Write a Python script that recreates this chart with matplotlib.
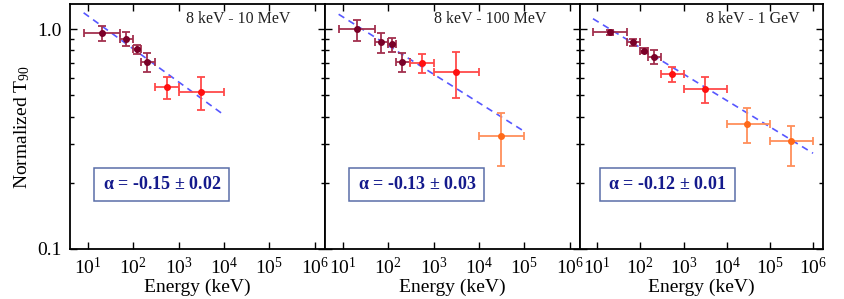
import numpy as np
import matplotlib
matplotlib.use("Agg")
import matplotlib.pyplot as plt
from matplotlib.ticker import FixedLocator, NullFormatter, FixedFormatter, LogLocator

plt.rcParams['font.family'] = ['Liberation Serif', 'DejaVu Serif']
plt.rcParams['mathtext.fontset'] = 'stix'
plt.rcParams['mathtext.default'] = 'regular'

# ---- data ----
bin_lo = [8, 50, 100, 150, 300, 1000, 1e4, 1e5]
bin_hi = [50, 100, 150, 300, 1000, 1e4, 1e5, 1e6]
energy = [20, 69, 120, 205, 540, 3100, 30200, 309000]
group = [0, 0, 0, 0, 1, 1, 2, 2]

titles = ["8 keV - 10 MeV", "8 keV - 100 MeV", "8 keV - 1 GeV"]
n_points = [6, 7, 8]

t90_p1 = [0.956, 0.900, 0.809, 0.710, 0.543, 0.516]
t90_p1_hi = [1.032, 0.972, 0.846, 0.775, 0.607, 0.603]
t90_p1_lo = [0.885, 0.837, 0.770, 0.635, 0.479, 0.428]

t90_p2 = [1.000, 0.870, 0.852, 0.706, 0.703, 0.640, 0.327]
t90_p2_hi = [1.099, 0.962, 0.913, 0.775, 0.770, 0.789, 0.414]
t90_p2_lo = [0.885, 0.775, 0.789, 0.635, 0.629, 0.487, 0.239]

t90_p3 = [0.966, 0.870, 0.797, 0.748, 0.624, 0.532, 0.370, 0.310]
t90_p3_hi = [0.990, 0.900, 0.822, 0.803, 0.674, 0.603, 0.436, 0.362]
t90_p3_lo = [0.939, 0.840, 0.775, 0.691, 0.573, 0.459, 0.304, 0.239]

alpha_val = [-0.15, -0.13, -0.12]
alpha_err = [0.02, 0.03, 0.01]
fit_norm = [1.62, 1.53, 1.43]
fit_emin = [8, 8, 8]
fit_emax = [1e4, 1e5, 1e6]

yticks = [0.1, 1.0]
ytick_labels = ["0.1", "1.0"]
xticks = [1e1, 1e2, 1e3, 1e4, 1e5, 1e6]

# ---- style ----
pt_colors = ['#7a0028', '#ff1010', '#ff6a1a']
bar_colors = ['#a2304e', '#ff4a4a', '#ff8f5a']
title_x = [0.865, 0.867, 0.905]

fig = plt.figure(figsize=(8.44, 2.99), dpi=100)
W, H = 844, 299
panels = [(70, 325), (325, 580), (580, 823)]
top, bottom = 4, 249

series = [(t90_p1, t90_p1_lo, t90_p1_hi), (t90_p2, t90_p2_lo, t90_p2_hi),
          (t90_p3, t90_p3_lo, t90_p3_hi)]

for i, (x0, x1) in enumerate(panels):
    ax = fig.add_axes([x0 / W, 1 - bottom / H, (x1 - x0) / W, (bottom - top) / H])
    ax.set_xscale('log')
    ax.set_yscale('log')
    ax.set_xlim(4.0, 1.7e6)
    ax.set_ylim(0.1, 1.3)
    n = n_points[i]
    t, tlo, thi = series[i]
    for k in range(n):
        g = group[k]
        e = energy[k]
        ax.errorbar([e], [t[k]],
                    xerr=[[e - bin_lo[k]], [bin_hi[k] - e]],
                    yerr=[[t[k] - tlo[k]], [thi[k] - t[k]]],
                    fmt='none', ecolor=bar_colors[g], elinewidth=1.3,
                    capsize=3, capthick=1.3, zorder=3)
        ax.plot([e], [t[k]], 'o', color=pt_colors[g], ms=4, zorder=4)
    ef = np.array([fit_emin[i], fit_emax[i]])
    ax.plot(ef, fit_norm[i] * ef ** alpha_val[i], color='#3a3aff', lw=1.2,
            ls=(0, (4, 3)), alpha=0.85, zorder=2)

    ax.text(title_x[i], 0.94, titles[i], transform=ax.transAxes, ha='right',
            va='center', fontsize=11.5, color='#222222')
    ax.text(0.36, 0.262, r'$\alpha$ = %.2f $\pm$ %.2f' % (alpha_val[i], alpha_err[i]),
            transform=ax.transAxes, ha='center', va='center', fontsize=13,
            fontweight='bold', color='#141a8c',
            bbox=dict(boxstyle='square,pad=0.45', fc='white', ec='#5a6ea8', lw=1.1))

    ax.xaxis.set_major_locator(FixedLocator(xticks))
    ax.xaxis.set_minor_locator(FixedLocator([]))
    ax.yaxis.set_major_locator(FixedLocator(yticks))
    ax.yaxis.set_minor_locator(LogLocator(base=10, subs=np.arange(2, 10)))
    ax.yaxis.set_minor_formatter(NullFormatter())
    if i == 0:
        ax.yaxis.set_major_formatter(FixedFormatter(ytick_labels))
        ax.set_ylabel(r'Normalized T$_{90}$', fontsize=14, labelpad=4)
    else:
        ax.yaxis.set_major_formatter(NullFormatter())
    ax.tick_params(which='both', direction='in', top=True, right=True, width=1.0)
    ax.tick_params(which='major', length=5, labelsize=14, pad=6)
    ax.tick_params(which='minor', length=3)
    ax.set_xlabel('Energy (keV)', fontsize=14, labelpad=0)
    for s in ax.spines.values():
        s.set_linewidth(1.3)

fig.savefig('out.png', dpi=100)
